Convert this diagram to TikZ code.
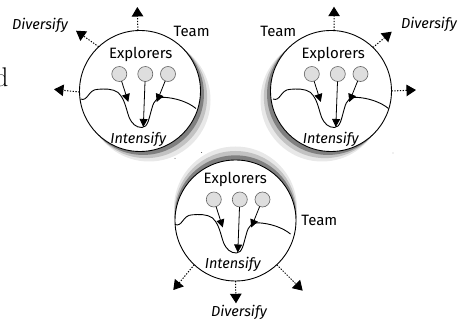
\documentclass[tikz,border=0pt]{standalone}
\usepackage{fontspec}
\newfontfamily\uifont{Fira Sans}
\usetikzlibrary{arrows.meta}
\tikzset{
  x=1pt,y=-1pt,
  teamcircle/.style={circle,draw=black,line width=0.9pt,fill=white,minimum size=121pt,inner sep=0pt,outer sep=0pt},
  ball/.style={circle,draw=black!60,line width=0.6pt,fill=black!13,minimum size=15pt,inner sep=0pt,outer sep=0pt},
  lbl/.style={inner sep=0pt,font=\uifont\fontsize{15}{17}\selectfont},
  ilbl/.style={inner sep=0pt,font=\uifont\fontsize{14.5}{17}\selectfont\itshape},
  fall/.style={-{Triangle[length=8pt,width=8pt]},line width=0.8pt,black},
  outward/.style={-{Triangle[length=9.5pt,width=11.5pt]},line width=1pt,dash pattern=on 1.3pt off 1.5pt,black},
  landscape/.style={line width=0.9pt,black},
  speck/.style={fill=black!70},
}
\newcommand{\teamunit}[7]{% name, cx, cy, shadow dx, shadow dy, inner dx, inner dy
  \begin{scope}[shift={(#2,#3)},name prefix=#1-]
    \fill[black!9] (#4*1.0,#5*1.0) circle[radius=61.5];
    \fill[black!24] (#4*0.68,#5*0.68) circle[radius=61];
    \fill[black!50] (#4*0.35,#5*0.35) circle[radius=60.8];
    \node[teamcircle] (c) at (0,0) {};
    \begin{scope}[shift={(#6,#7)}]
      \node[lbl] (ex) at (0.7,-37) {Explorers};
      \node[ilbl] (in) at (-1.7,48) {Intensify};
      \node[ball] (b1) at (-20.7,-17) {};
      \node[ball] (b2) at (5.3,-17) {};
      \node[ball] (b3) at (28,-17) {};
      \coordinate (t1) at (-11.7,11);
      \coordinate (t2) at (3.3,36);
      \coordinate (t3) at (16.7,11);
      \draw[landscape] (-59.5,8) .. controls (-52,11) and (-52,-1.7) .. (-42,-1.7)
        .. controls (-36,-2.2) and (-27,-2.5) .. (-22,1.5)
        .. controls (-15,8) and (-14,18) .. (-11,26)
        .. controls (-8,33) and (-4,36.5) .. (2,36.5)
        .. controls (8,36.5) and (9,27) .. (12,17)
        .. controls (14,9) and (18,6) .. (24,6.3)
        .. controls (36,7) and (48,11) .. (56,17.5);
      \draw[fall] (b1) -- (t1);
      \draw[fall] (b2) -- (t2);
      \draw[fall] (b3) -- (t3);
    \end{scope}
  \end{scope}
}
\begin{document}
\begin{tikzpicture}
\useasboundingbox (0,0) rectangle (459,321);
\teamunit{A}{140}{91}{9}{9}{0}{0}
\teamunit{B}{331}{91}{-9}{9}{1.5}{0}
\teamunit{C}{235.5}{220.5}{0}{-12.5}{-1}{-4}
\node[inner sep=0pt,anchor=east,font=\fontsize{27}{27}\selectfont] (d) at (8.5,77) {d};
\node[lbl] (teamA) at (191.7,31) {Team};
\node[lbl] (teamB) at (278.3,31) {Team};
\node[lbl] (teamC) at (319.3,220) {Team};
\node[ilbl] (divA) at (40,25) {Diversify};
\node[ilbl] (divB) at (429,24) {Diversify};
\node[ilbl] (divC) at (239,312.3) {Diversify};
\coordinate (a1) at (137.3,7);
\coordinate (a2) at (76,30.7);
\coordinate (a3) at (54,89.3);
\coordinate (b1) at (334,6.7);
\coordinate (b2) at (391.7,31.7);
\coordinate (b3) at (416,90);
\coordinate (c1) at (236,303.3);
\coordinate (c2) at (173.3,290);
\coordinate (c3) at (302.7,290.7);
\draw[outward] (A-c.92) -- (a1);
\draw[outward] (A-c.133) -- (a2);
\draw[outward] (A-c.181) -- (a3);
\draw[outward] (B-c.87) -- (b1);
\draw[outward] (B-c.46) -- (b2);
\draw[outward] (B-c.0) -- (b3);
\draw[outward] (C-c.-90) -- (c1);
\draw[outward] (C-c.-133) -- (c2);
\draw[outward] (C-c.-47) -- (c3);
\fill[speck] (201.7,152.5) circle[radius=0.5];
\fill[speck] (175,158.5) circle[radius=0.5];
\fill[speck] (393,153) circle[radius=0.4];
\end{tikzpicture}
\end{document}
